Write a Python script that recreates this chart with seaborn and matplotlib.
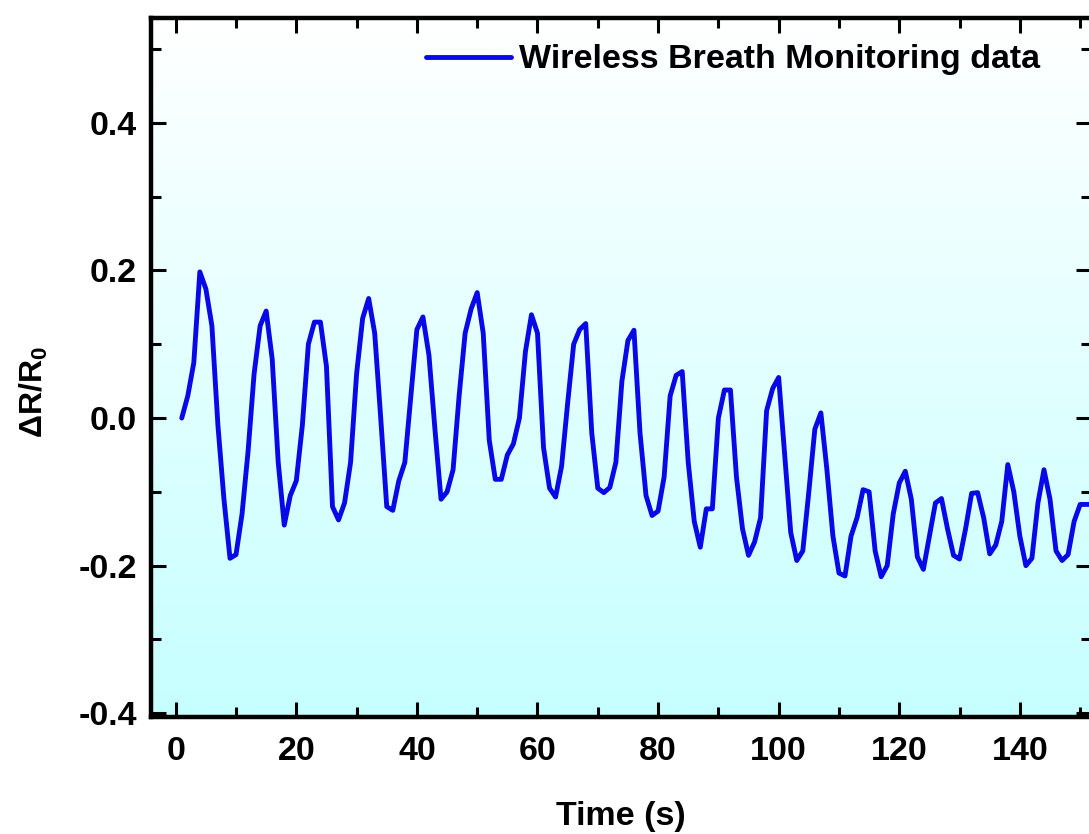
import numpy as np
import pandas as pd
import seaborn as sns
import matplotlib.pyplot as plt
from matplotlib.colors import LinearSegmentedColormap
from matplotlib.ticker import MultipleLocator

# time in seconds and the measured resistance change
time_s = list(range(1, 153))
delta_r = [
    0.000, 0.030, 0.075, 0.198, 0.175, 0.125, -0.010, -0.110, -0.190, -0.185,
    -0.130, -0.045, 0.060, 0.125, 0.145, 0.080, -0.060, -0.145, -0.105, -0.085,
    -0.010, 0.100, 0.130, 0.130, 0.070, -0.120, -0.138, -0.115, -0.060, 0.060,
    0.135, 0.162, 0.115, 0.000, -0.120, -0.125, -0.085, -0.060, 0.030, 0.120,
    0.137, 0.085, -0.016, -0.110, -0.100, -0.070, 0.030, 0.115, 0.148, 0.170,
    0.115, -0.030, -0.083, -0.083, -0.050, -0.035, 0.000, 0.090, 0.140, 0.115,
    -0.040, -0.095, -0.107, -0.065, 0.020, 0.100, 0.120, 0.128, -0.020, -0.095,
    -0.101, -0.094, -0.060, 0.050, 0.105, 0.119, -0.020, -0.105, -0.132, -0.126,
    -0.080, 0.030, 0.058, 0.063, -0.060, -0.140, -0.175, -0.123, -0.123, 0.000,
    0.038, 0.038, -0.080, -0.150, -0.186, -0.168, -0.135, 0.010, 0.040, 0.055,
    -0.050, -0.155, -0.193, -0.180, -0.100, -0.015, 0.007, -0.070, -0.160, -0.210,
    -0.214, -0.160, -0.135, -0.097, -0.100, -0.180, -0.215, -0.200, -0.130, -0.088,
    -0.072, -0.110, -0.188, -0.205, -0.160, -0.115, -0.109, -0.150, -0.186, -0.191,
    -0.150, -0.102, -0.101, -0.135, -0.184, -0.172, -0.140, -0.063, -0.100, -0.160,
    -0.200, -0.190, -0.115, -0.070, -0.110, -0.180, -0.193, -0.185, -0.140, -0.117,
    -0.117, -0.117,
]
series_name = "Wireless Breath Monitoring data"

df = pd.DataFrame({"t": time_s, "dr": delta_r})

sns.set_style("ticks")
plt.rcParams["font.family"] = ["Liberation Sans", "DejaVu Sans"]
plt.rcParams["font.weight"] = "bold"
plt.rcParams["text.color"] = "black"
plt.rcParams["axes.labelcolor"] = "black"
plt.rcParams["xtick.color"] = "black"
plt.rcParams["ytick.color"] = "black"
plt.rcParams["mathtext.fontset"] = "custom"
plt.rcParams["mathtext.rm"] = "Liberation Sans:bold"
plt.rcParams["mathtext.it"] = "Liberation Sans:bold"
plt.rcParams["mathtext.bf"] = "Liberation Sans:bold"

fig = plt.figure(figsize=(10.89, 8.34), dpi=100)
ax = fig.add_axes([151 / 1089, 1 - 717 / 834, 940 / 1089, 699 / 834])

# white-to-cyan vertical background
cmap = LinearSegmentedColormap.from_list("bg", ["#c6ffff", "#ffffff"])
grad = np.linspace(0, 1, 256).reshape(-1, 1)
ax.imshow(grad, cmap=cmap, aspect="auto", extent=[0, 1, 0, 1],
          transform=ax.transAxes, origin="lower", zorder=0)

sns.lineplot(data=df, x="t", y="dr", ax=ax, color="#0808e8", linewidth=3.5,
             label=series_name, zorder=3)

ax.set_xlim(-4.1, 151.8)
ax.set_ylim(-0.405, 0.542)
ax.xaxis.set_major_locator(MultipleLocator(20))
ax.xaxis.set_minor_locator(MultipleLocator(10))
ax.yaxis.set_major_locator(MultipleLocator(0.2))
ax.yaxis.set_minor_locator(MultipleLocator(0.1))
ax.set_xticks([0, 20, 40, 60, 80, 100, 120, 140])
ax.set_yticks([-0.4, -0.2, 0.0, 0.2, 0.4])
ax.set_yticklabels(["-0.4", "-0.2", "0.0", "0.2", "0.4"])

ax.tick_params(which="both", direction="in", top=True, right=True,
               labelsize=24.5, color="black", labelcolor="black")
ax.tick_params(which="major", length=11, width=2.2)
ax.tick_params(which="minor", length=7, width=2.2)
ax.tick_params(axis="x", which="major", pad=14)
ax.tick_params(axis="y", which="major", pad=10)
for lab in ax.get_xticklabels() + ax.get_yticklabels():
    lab.set_fontweight("bold")

for sp in ax.spines.values():
    sp.set_linewidth(3.2)
    sp.set_color("black")
    sp.set_zorder(5)

ax.set_xlabel("Time (s)", fontsize=24.5, fontweight="bold", labelpad=24)
ax.set_ylabel(r"ΔR/R$_0$", fontsize=23, fontweight="bold")
ax.yaxis.set_label_coords(-0.107, 0.465)

leg = ax.legend(loc="center right", bbox_to_anchor=(0.946, 0.94), frameon=False,
                fontsize=24.5, handlelength=2.5, handletextpad=0.25,
                borderaxespad=0, borderpad=0)
for txt in leg.get_texts():
    txt.set_fontweight("bold")
    txt.set_color("black")

fig.savefig("out.png", dpi=100)
